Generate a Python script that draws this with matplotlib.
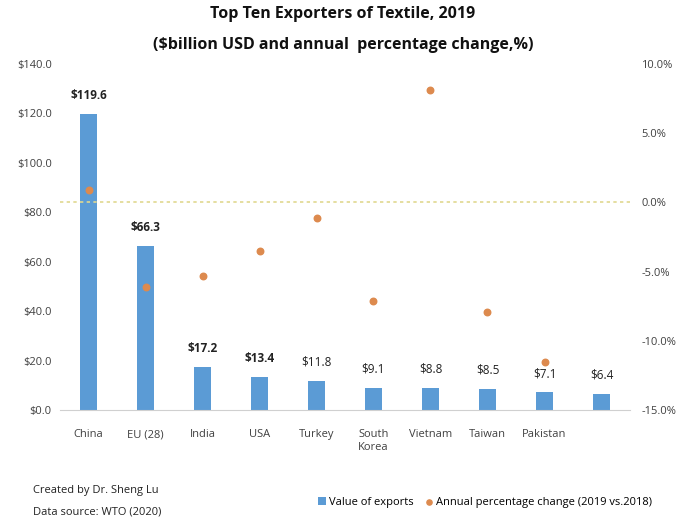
import matplotlib.pyplot as plt
import numpy as np

countries = ['China', 'EU (28)', 'India', 'USA', 'Turkey', 'South\nKorea',
             'Vietnam', 'Taiwan', 'Pakistan', '']
exports = [119.6, 66.3, 17.2, 13.4, 11.8, 9.1, 8.8, 8.5, 7.1, 6.4]
pct_change = [0.9, -6.1, -5.3, -3.5, -1.1, -7.1, 8.1, -7.9, -11.5, np.nan]
bold_labels = [True, True, True, True, False, False, False, False, False, False]

plt.rcParams['font.family'] = ['Open Sans', 'DejaVu Sans']
bar_color = '#5b9bd5'
dot_color = '#dd8a4e'

fig = plt.figure(figsize=(6.86, 5.22), dpi=100)
ax = fig.add_axes([60/686, 1-410/522, 570/686, 346/522])
x = np.arange(len(countries))
ax.bar(x, exports, width=0.3, color=bar_color, label='Value of exports', zorder=2)
ax.set_ylim(0, 140)
ax.set_xlim(-0.5, len(countries) - 0.5)
ax.set_yticks(np.arange(0, 141, 20))
ax.set_yticklabels(['${:.1f}'.format(v) for v in np.arange(0, 141, 20)], fontsize=8, color='#404040')
ax.set_xticks(x)
ax.set_xticklabels(countries, fontsize=8, color='#404040', va='top')
ax.tick_params(axis='both', length=0, pad=14)
ax.tick_params(axis='y', pad=6)
for s in ['top', 'right', 'left']:
    ax.spines[s].set_visible(False)
ax.spines['bottom'].set_color('#d0d0d0')
for xi, v, b in zip(x, exports, bold_labels):
    ax.text(xi, v + 5, '${:.1f}'.format(v), ha='center', va='bottom', fontsize=8.5,
            fontweight='bold' if b else 'normal', color='#222222')

ax2 = ax.twinx()
ax2.scatter(x, pct_change, s=22, color=dot_color, zorder=3,
            label='Annual percentage change (2019 vs.2018)')
ax2.set_ylim(-15, 10)
ax2.set_yticks(np.arange(-15, 11, 5))
ax2.set_yticklabels(['{:.1f}%'.format(v) for v in np.arange(-15, 11, 5)], fontsize=8, color='#404040')
ax2.tick_params(axis='y', length=0, pad=8)
for s in ['top', 'right', 'left', 'bottom']:
    ax2.spines[s].set_visible(False)
ax2.axhline(0, color='#e0d890', linestyle=(0, (2, 2)), linewidth=1.2, zorder=1)

fig.text(0.5, 1-14/522, 'Top Ten Exporters of Textile, 2019', ha='center', va='center',
         fontsize=11.5, fontweight='bold', color='#111111')
fig.text(0.5, 1-45/522, '($billion USD and annual  percentage change,%)', ha='center', va='center',
         fontsize=11.5, fontweight='bold', color='#111111')

fig.text(33/686, 1-490/522, 'Created by Dr. Sheng Lu', fontsize=8, va='center', color='#222222')
fig.text(33/686, 1-512/522, 'Data source: WTO (2020)', fontsize=8, va='center', color='#222222')

h1, l1 = ax.get_legend_handles_labels()
h2, l2 = ax2.get_legend_handles_labels()
fig.legend(h1 + h2, l1 + l2, loc='center', bbox_to_anchor=(485/686, 1-502/522), ncol=2,
           frameon=False, fontsize=8, handlelength=0.7, handletextpad=0.3, columnspacing=1.0,
           markerscale=0.8)

fig.savefig('out.png', dpi=100)
